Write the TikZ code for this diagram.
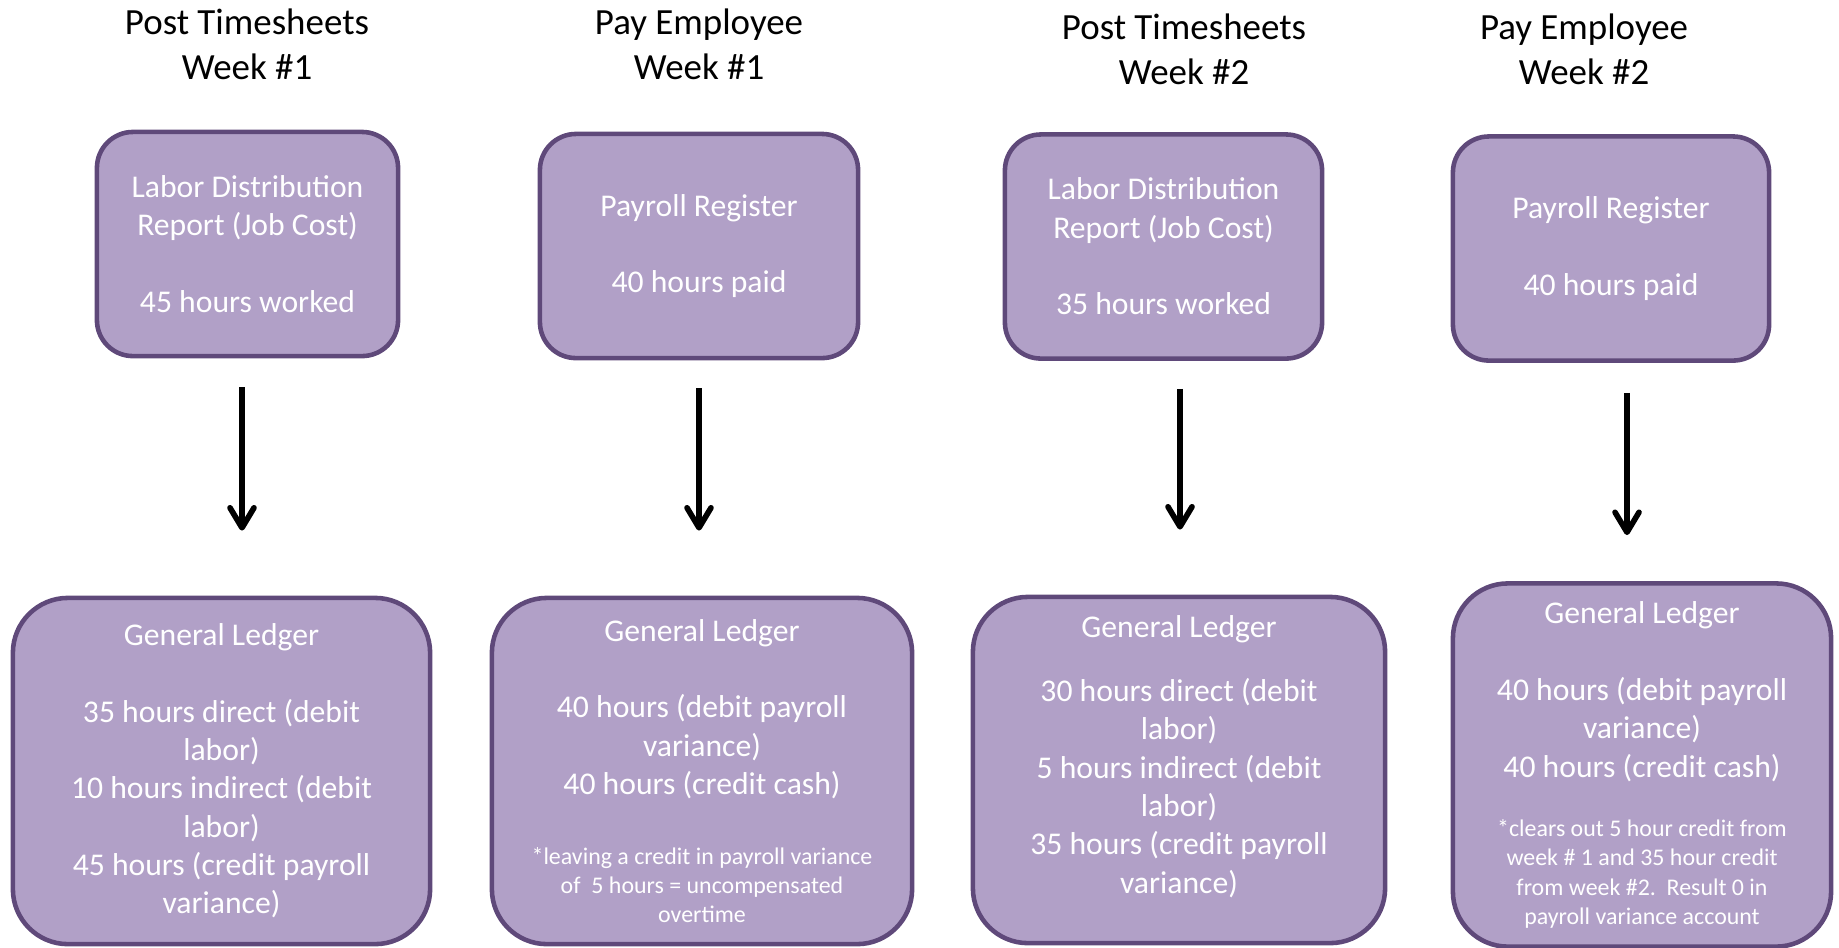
\documentclass[tikz,border=0pt]{standalone}
\usepackage{fontspec}
\setmainfont{Carlito}
\usetikzlibrary{arrows.meta}
\definecolor{boxfill}{HTML}{B1A0C7}
\definecolor{boxline}{HTML}{5F497A}
\newcommand{\titlefont}{\fontsize{10.5}{12.7}\selectfont}
\newcommand{\boxfont}{\fontsize{9}{10.9}\selectfont}
\newcommand{\notefont}{\fontsize{6.8}{8.3}\selectfont}

\begin{document}
\begin{tikzpicture}[x=0.01cm,y=-0.01cm,
    steptitle/.style={align=center,font=\titlefont,text=black},
    docbox/.style={draw=boxline,fill=boxfill,line width=1.3pt,rounded corners=0.36cm,
        text=white,align=center,font=\boxfont,minimum height=2.24cm},
    ledger/.style={docbox,rounded corners=0.55cm,minimum height=3.46cm},
    flow/.style={-{Straight Barb[length=0.2cm,width=0.24cm,round]},line width=1.6pt}]

    \useasboundingbox (0,0) rectangle (1839,947);

    % step titles
    \node[steptitle] (title1) at (247,44) {Post Timesheets\\Week \#1};
    \node[steptitle] (title2) at (699,44) {Pay Employee\\Week \#1};
    \node[steptitle] (title3) at (1184,49) {Post Timesheets\\Week \#2};
    \node[steptitle] (title4) at (1584,49) {Pay Employee\\Week \#2};

    % source reports
    \node[docbox,minimum width=3.01cm] (ldr1) at (247.5,244)
        {Labor Distribution\\Report (Job Cost)\\[10.9pt]45 hours worked};
    \node[docbox,minimum width=3.18cm] (pay1) at (699,246)
        {Payroll Register\\[10.9pt]40 hours paid};
    \node[docbox,minimum width=3.17cm] (ldr2) at (1163.5,246.5)
        {Labor Distribution\\Report (Job Cost)\\[10.9pt]35 hours worked};
    \node[docbox,minimum width=3.16cm] (pay2) at (1611,248.5)
        {Payroll Register\\[10.9pt]40 hours paid};

    % ledger entries
    \node[ledger,minimum width=4.17cm] (gl1) at (221.5,771)
        {General Ledger\\[10.9pt]35 hours direct (debit\\labor)\\10 hours indirect (debit\\labor)\\45 hours (credit payroll\\variance)};
    \node[ledger,minimum width=4.20cm] (gl2) at (702,771)
        {General Ledger\\[10.9pt]40 hours (debit payroll\\variance)\\40 hours (credit cash)\\[9pt]
        \notefont *leaving a credit in payroll variance\\[-2.6pt]\notefont of~~5 hours = uncompensated\\[-2.6pt]\notefont overtime};
    \node[ledger,minimum width=4.12cm,text depth=9pt] (gl3) at (1179,770)
        {General Ledger\\[7.3pt]30 hours direct (debit\\labor)\\5 hours indirect (debit\\labor)\\35 hours (credit payroll\\variance)};
    \node[ledger,minimum width=3.78cm,minimum height=3.63cm] (gl4) at (1642,765)
        {General Ledger\\[10.9pt]40 hours (debit payroll\\variance)\\40 hours (credit cash)\\[6pt]
        \notefont *clears out 5 hour credit from\\[-2.6pt]\notefont week \# 1 and 35 hour credit\\[-2.6pt]\notefont from week \#2.~~Result 0 in\\[-2.6pt]\notefont payroll variance account};

    % postings
    \draw[flow] ([xshift=-0.055cm,yshift=-0.29cm]ldr1.south) -- ([xshift=-0.055cm,yshift=0.65cm]ldr1.south |- gl1.north);
    \draw[flow] ([yshift=-0.28cm]pay1.south) -- ([yshift=0.65cm]pay1.south |- gl2.north);
    \draw[flow] ([xshift=0.165cm,yshift=-0.28cm]ldr2.south) -- ([xshift=0.165cm,yshift=0.65cm]ldr2.south |- gl3.north);
    \draw[flow] ([xshift=0.16cm,yshift=-0.30cm]pay2.south) -- ([xshift=0.16cm,yshift=0.46cm]pay2.south |- gl4.north);

\end{tikzpicture}
\end{document}
